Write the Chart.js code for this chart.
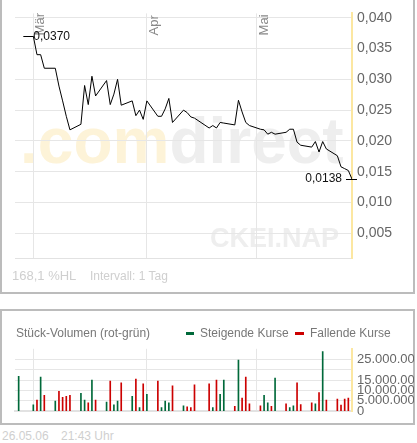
<!DOCTYPE html>
<html>
<head>
<meta charset="utf-8">
<script src="https://cdn.jsdelivr.net/npm/chart.js@4/dist/chart.umd.min.js"></script>
<style>
  body { margin: 0; background: #fff; width: 417px; height: 443px; overflow: hidden; position: relative;
         font-family: "Liberation Sans", Arial, sans-serif; }
  .panel { position: absolute; box-sizing: border-box; border: 2px solid #bcbcbc; }
  .txt { position: absolute; white-space: nowrap; line-height: 14px; }
  canvas { position: absolute; }
</style>
</head>
<body>
<div class="panel" style="left:0;top:-2px;width:415px;height:296px"></div>
<div class="panel" style="left:0;top:309px;width:415px;height:116px"></div>

<canvas id="priceChart" width="414" height="292" style="left:0;top:0;width:414px;height:292px"></canvas>
<canvas id="volChart" width="414" height="88" style="left:0;top:336px;width:414px;height:88px"></canvas>

<div class="txt" style="left:12px;top:269px;font-size:13px;color:#cfcfcf">168,1 %HL</div>
<div class="txt" style="left:90px;top:269px;font-size:12px;color:#cfcfcf">Intervall: 1 Tag</div>

<div class="txt" style="left:16px;top:326px;font-size:12px;color:#777">Stück-Volumen (rot-grün)</div>
<div style="position:absolute;left:186px;top:332px;width:8px;height:3px;background:#00693a"></div>
<div class="txt" style="left:200px;top:326px;font-size:12px;color:#777">Steigende Kurse</div>
<div style="position:absolute;left:295px;top:332px;width:9px;height:3px;background:#cc0000"></div>
<div class="txt" style="left:310px;top:326px;font-size:12px;color:#777">Fallende Kurse</div>

<div class="txt" style="left:2px;top:429px;font-size:12px;color:#cfcfcf">26.05.06</div>
<div class="txt" style="left:61px;top:429px;font-size:12px;color:#cfcfcf">21:43 Uhr</div>

<script>
// trading days, Feb 24 - May 26 2006
const tradeDays = [
  '2006-02-24','2006-02-28',
  '2006-03-01','2006-03-02','2006-03-03','2006-03-06','2006-03-07','2006-03-08','2006-03-09','2006-03-10',
  '2006-03-13','2006-03-14','2006-03-15','2006-03-16','2006-03-17','2006-03-20','2006-03-21','2006-03-22','2006-03-23','2006-03-24',
  '2006-03-27','2006-03-28','2006-03-29','2006-03-30','2006-03-31',
  '2006-04-03','2006-04-04','2006-04-05','2006-04-06','2006-04-07','2006-04-10','2006-04-11','2006-04-12','2006-04-13',
  '2006-04-17','2006-04-18','2006-04-19','2006-04-20','2006-04-21','2006-04-24','2006-04-25','2006-04-26','2006-04-27','2006-04-28',
  '2006-05-01','2006-05-02','2006-05-03','2006-05-04','2006-05-05','2006-05-08','2006-05-09','2006-05-10','2006-05-11','2006-05-12',
  '2006-05-15','2006-05-16','2006-05-17','2006-05-18','2006-05-19','2006-05-22','2006-05-23','2006-05-24','2006-05-25','2006-05-26'
];

const prices = [
  null, 0.0370,
  0.0340, 0.0340, 0.0318, 0.0318, 0.0289, 0.0265, 0.0240, 0.0218,
  0.0227, 0.0290, 0.0259, 0.0305, 0.0273, 0.0298, 0.0259, 0.0276, 0.0300, 0.0258,
  0.0265, 0.0241, 0.0250, 0.0235, 0.0265,
  0.0240, 0.0240, 0.0252, 0.0269, 0.0230, 0.0250, 0.0246, 0.0239, 0.0237,
  0.0221, 0.0225, 0.0221, 0.0230, 0.0229, 0.0226, 0.0266, 0.0247, 0.0230, 0.0225,
  0.0219, 0.0218, 0.0211, 0.0214, 0.0211, 0.0214, 0.0219, 0.0219, 0.0198, 0.0193,
  0.0190, 0.0199, 0.0182, 0.0199, 0.0187, 0.0176, 0.0158, 0.0155, 0.0152, 0.0138
];

// volume in millions of shares
const volUp = [
  16.8, 3.1,
  null, 16.4, null, 4.9, null, null, null, null,
  8.6, 5.4, null, 15.0, null, 4.4, null, 3.1, 4.9, null,
  7.2, null, 1.7, null, 8.1,
  null, 1.7, 4.9, 4.0, null, 2.6, null, null, null,
  null, 1.7, null, 8.1, 15.0, null, 24.6, null, null, null,
  null, 7.6, 4.0, null, 15.9, null, 1.7, 2.6, null, null,
  null, 3.5, null, 28.7, null, null, null, null, null, null
];
const volDown = [
  null, null,
  5.4, null, 7.6, null, 9.5, 6.7, 7.2, 7.6,
  null, null, 4.0, null, 5.4, null, 14.5, null, null, 13.6,
  null, 15.5, null, 13.1, null,
  14.5, null, null, null, 12.2, null, 2.1, 1.7, 12.7,
  13.1, null, 15.0, null, null, 2.3, null, 6.3, 16.4, 3.5,
  2.6, null, null, 2.3, null, 3.5, null, null, 13.6, 3.2,
  4.0, null, 9.0, null, 5.3, 5.8, 3.0, 5.8, 6.3, null
];

const axisStart = '2006-02-23';
const axisEnd = '2006-05-26';
const monthLines = ['2006-02-28', '2006-03-31', '2006-04-30'];
const monthLabels = ['Mär', 'Apr', 'Mai'];
const priceTicks = [0.005, 0.010, 0.015, 0.020, 0.025, 0.030, 0.035, 0.040];
const volTicks = [0, 5e6, 10e6, 15e6, 20e6, 25e6, 30e6];

const dayNum = s => (Date.parse(s) - Date.parse(tradeDays[0])) / 864e5;
const xy = (arr, k) => tradeDays.map((d, i) => ({ x: dayNum(d), y: arr[i] == null ? null : arr[i] * k }))
  .filter(p => p.y !== null);
const dots = v => String(v).replace(/\B(?=(\d{3})+(?!\d))/g, '.');

Chart.defaults.font.family = '"Liberation Sans", Arial, sans-serif';
Chart.defaults.animation = false;

const GRID = '#e6e6e6';
const YELLOW = '#fce7a1';

function xAxis(borderW, borderC) {
  return {
    type: 'linear',
    min: dayNum(axisStart),
    max: dayNum(axisEnd),
    offset: false,
    afterBuildTicks: a => { a.ticks = monthLines.map(d => ({ value: dayNum(d) })); },
    afterFit: a => { a.height = 0; },
    ticks: { display: false, autoSkip: false },
    grid: { color: GRID, drawTicks: false, offset: false },
    border: { color: borderC, width: borderW }
  };
}

const pricePlugin = {
  id: 'pricePlugin',
  beforeDraw(chart) {
    const { ctx, chartArea } = chart;
    ctx.save();
    ctx.font = 'bold 64px "Liberation Sans", Arial, sans-serif';
    ctx.textBaseline = 'alphabetic';
    const x0 = chartArea.left + 5, y0 = chartArea.top + 150;
    ctx.fillStyle = '#fdf3d8';
    ctx.fillText('.com', x0, y0);
    ctx.fillStyle = '#eeeeee';
    ctx.fillText('direct', x0 + ctx.measureText('.com').width, y0);
    ctx.font = 'bold 27px "Liberation Sans", Arial, sans-serif';
    ctx.textAlign = 'right';
    ctx.fillText('CKEI.NAP', chartArea.right - 13, chartArea.bottom - 11);
    ctx.restore();
  },
  afterDatasetsDraw(chart) {
    const { ctx, chartArea, scales } = chart;
    ctx.save();
    // month labels, rotated
    ctx.font = '13px "Liberation Sans", Arial, sans-serif';
    ctx.fillStyle = '#888';
    ctx.textBaseline = 'top';
    monthLines.forEach((d, i) => {
      const gx = scales.x.getPixelForValue(dayNum(d));
      ctx.save();
      ctx.translate(gx + 1, chartArea.top + 22);
      ctx.rotate(-Math.PI / 2);
      ctx.fillText(monthLabels[i], 0, 0);
      ctx.restore();
    });
    // first / last price markers
    const pts = chart.getDatasetMeta(0).data;
    const first = pts[0], last = pts[pts.length - 1];
    const pdata = chart.data.datasets[0].data;
    const fmt = v => v.toFixed(4).replace('.', ',');
    ctx.strokeStyle = '#000';
    ctx.lineWidth = 1;
    ctx.beginPath();
    ctx.moveTo(first.x - 10, Math.round(first.y) + 0.5);
    ctx.lineTo(first.x, Math.round(first.y) + 0.5);
    ctx.moveTo(last.x - 6, Math.round(last.y) + 0.5);
    ctx.lineTo(last.x + 5, Math.round(last.y) + 0.5);
    ctx.stroke();
    ctx.font = '12px "Liberation Sans", Arial, sans-serif';
    ctx.fillStyle = '#111';
    ctx.textBaseline = 'middle';
    ctx.textAlign = 'left';
    ctx.fillText(fmt(pdata[0].y), first.x, first.y);
    ctx.textAlign = 'right';
    ctx.fillText(fmt(pdata[pdata.length - 1].y), last.x - 10, last.y);
    ctx.restore();
  }
};

new Chart(document.getElementById('priceChart'), {
  type: 'line',
  data: {
    datasets: [{
      data: xy(prices, 1),
      borderColor: '#000',
      borderWidth: 1,
      pointRadius: 0,
      tension: 0,
      fill: false
    }]
  },
  options: {
    responsive: false,
    layout: { padding: { left: 15, top: 12, bottom: 34, right: 0 } },
    plugins: { legend: { display: false }, tooltip: { enabled: false } },
    scales: {
      x: xAxis(1, '#e2e2e2'),
      y: {
        position: 'right',
        min: 0.001,
        max: 0.0407,
        afterBuildTicks: a => { a.ticks = priceTicks.map(v => ({ value: v })); },
        afterFit: a => { a.width = 62; },
        ticks: { color: '#666', font: { size: 14 }, padding: 5, autoSkip: false,
                 callback: v => v.toFixed(3).replace('.', ',') },
        grid: { color: GRID, drawTicks: false },
        border: { color: YELLOW, width: 2 }
      }
    }
  },
  plugins: [pricePlugin]
});

new Chart(document.getElementById('volChart'), {
  type: 'bar',
  data: {
    datasets: [
      { label: 'Steigende Kurse', data: xy(volUp, 1e6), backgroundColor: '#00693a', barThickness: 1, grouped: false },
      { label: 'Fallende Kurse', data: xy(volDown, 1e6), backgroundColor: '#cc0000', barThickness: 1, grouped: false }
    ]
  },
  options: {
    responsive: false,
    layout: { padding: { left: 15, top: 11, bottom: 11, right: 0 } },
    plugins: { legend: { display: false }, tooltip: { enabled: false } },
    scales: {
      x: xAxis(2, '#e2e2e2'),
      y: {
        position: 'right',
        min: 0,
        max: 30e6,
        afterBuildTicks: a => { a.ticks = volTicks.map(v => ({ value: v })); },
        afterFit: a => { a.width = 62; },
        ticks: { color: '#666', font: { size: 13 }, padding: 5, autoSkip: false,
                 callback: v => (v === 20e6 || v === 30e6) ? '' : dots(v) },
        grid: { color: c => c.tick && c.tick.value === 30e6 ? 'rgba(0,0,0,0)' : GRID, drawTicks: false },
        border: { color: YELLOW, width: 2 }
      }
    }
  }
});
</script>
</body>
</html>
